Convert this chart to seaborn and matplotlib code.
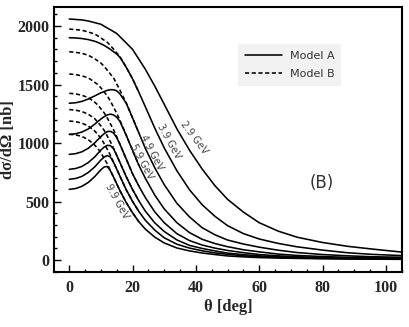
import matplotlib
matplotlib.use("Agg")
import matplotlib.pyplot as plt
import seaborn as sns
import pandas as pd
from matplotlib.lines import Line2D
from matplotlib.ticker import MultipleLocator

# angle grid [deg]
theta = [0, 2, 4, 6, 8, 9, 10, 11, 12, 13, 14, 15, 16, 18, 20, 22, 24, 27, 30,
         34, 38, 42, 46, 50, 55, 60, 66, 72, 80, 88, 96, 105]

# Model A, d sigma / d Omega [nb]
model_a_29 = [2060, 2056, 2052, 2043, 2029, 2022, 2015, 1999, 1983, 1968, 1952, 1936, 1909, 1855, 1800, 1716,
              1632, 1487, 1331, 1121, 938, 777, 636, 519, 410, 319, 247, 195, 150, 117, 93, 68]
model_a_39 = [1900, 1898, 1893, 1884, 1870, 1860, 1848, 1834, 1818, 1800, 1780, 1760, 1733, 1647, 1548, 1433,
              1312, 1128, 958, 763, 600, 472, 374, 294, 226, 180, 142, 113, 85, 62, 48, 38]
model_a_49 = [1340, 1344, 1356, 1376, 1402, 1416, 1429, 1440, 1450, 1456, 1455, 1446, 1420, 1340, 1214, 1085,
              956, 789, 644, 485, 368, 276, 216, 171, 137, 110, 84, 64, 47, 36, 28, 24]
model_a_59 = [1074, 1079, 1094, 1120, 1160, 1183, 1205, 1225, 1240, 1247, 1240, 1220, 1185, 1066, 936, 809,
              700, 555, 437, 319, 234, 177, 141, 114, 88, 70, 51, 39, 30, 23, 20, 16]
model_a_69 = [903, 909, 925, 955, 1000, 1028, 1055, 1080, 1098, 1100, 1085, 1045, 990, 863, 737, 631,
              535, 412, 319, 225, 166, 128, 102, 82, 63, 47, 36, 28, 21, 18, 15, 12]
model_a_79 = [775, 782, 800, 833, 880, 910, 940, 965, 980, 978, 950, 894, 834, 712, 602, 505,
              419, 318, 244, 172, 125, 99, 78, 59, 46, 36, 27, 22, 17, 14, 12, 10]
model_a_89 = [690, 697, 715, 748, 795, 825, 855, 880, 893, 880, 834, 776, 717, 600, 501, 414,
              341, 256, 190, 135, 102, 79, 61, 49, 36, 27, 22, 17, 14, 11, 10, 8]
model_a_99 = [604, 611, 630, 663, 712, 742, 772, 795, 800, 762, 708, 651, 593, 491, 403, 327,
              265, 196, 146, 103, 78, 60, 47, 35, 27, 21, 17, 14, 11, 9, 7.5, 6]

# Model B, forward angles only (joins model A after that)
theta_b = theta[:16]
model_b_39 = [1974, 1969, 1964, 1949, 1932, 1916, 1898, 1879, 1861, 1833, 1802, 1770, 1738, 1647, 1548, 1433]
model_b_49 = [1780, 1775, 1767, 1750, 1721, 1702, 1683, 1656, 1623, 1589, 1556, 1504, 1452, 1342, 1214, 1085]
model_b_59 = [1590, 1585, 1574, 1557, 1520, 1500, 1471, 1437, 1403, 1358, 1306, 1254, 1195, 1066, 936, 809]
model_b_69 = [1425, 1420, 1408, 1388, 1350, 1325, 1292, 1259, 1215, 1164, 1113, 1053, 990, 863, 737, 631]
model_b_79 = [1286, 1281, 1269, 1246, 1209, 1178, 1146, 1109, 1060, 1011, 955, 894, 834, 712, 602, 505]
model_b_89 = [1188, 1183, 1170, 1145, 1104, 1073, 1041, 995, 947, 895, 836, 776, 717, 600, 501, 414]
model_b_99 = [1074, 1070, 1056, 1029, 983, 954, 916, 869, 822, 765, 708, 651, 593, 491, 403, 327]

curves_a = [model_a_29, model_a_39, model_a_49, model_a_59, model_a_69, model_a_79, model_a_89, model_a_99]
curves_b = [model_b_39, model_b_49, model_b_59, model_b_69, model_b_79, model_b_89, model_b_99]

# energy labels: text, theta, value, rotation
energy_labels = [("2.9 GeV", 39.3, 1049, -53),
                 ("3.9 GeV", 31.4, 1015, -61),
                 ("4.9 GeV", 26.1, 920, -62),
                 ("5.9 GeV", 22.9, 844, -62),
                 ("9.9 GeV", 15.0, 502, -61)]

sns.set_style("white")
plt.rcParams["font.family"] = ["Liberation Serif", "DejaVu Serif"]

fig, ax = plt.subplots(figsize=(4.09, 3.27), dpi=100)
fig.subplots_adjust(left=0.133, right=0.982, top=0.9795, bottom=0.169)

for ys in curves_a:
    df = pd.DataFrame({"theta": theta, "xs": ys})
    sns.lineplot(data=df, x="theta", y="xs", ax=ax, color="black", lw=1.15, sort=False)
for ys in curves_b:
    df = pd.DataFrame({"theta": theta_b, "xs": ys})
    sns.lineplot(data=df, x="theta", y="xs", ax=ax, color="black", lw=1.15, sort=False,
                 linestyle=(0, (2.6, 1.6)))

for txt, tx, ty, rot in energy_labels:
    ax.text(tx, ty, txt, rotation=rot, rotation_mode="anchor", ha="center", va="center",
            fontsize=7, color="#444444", family="DejaVu Sans")

ax.text(0.771, 0.335, "(B)", transform=ax.transAxes, ha="center", va="center",
        fontsize=12, color="#333333", family="DejaVu Sans")

handles = [Line2D([], [], color="black", lw=1.15),
           Line2D([], [], color="black", lw=1.15, linestyle=(0, (2.6, 1.6)))]
leg = ax.legend(handles, ["Model A", "Model B"], loc="upper left", bbox_to_anchor=(0.514, 0.88),
                frameon=True, fancybox=False, facecolor="#f2f2f2", edgecolor="none", framealpha=1,
                prop={"family": "DejaVu Sans", "size": 8}, handlelength=3.3, labelspacing=0.75,
                borderpad=0.6, handletextpad=0.7)
for t in leg.get_texts():
    t.set_color("#333333")

ax.set_xlim(-4.7, 105)
ax.set_ylim(-100, 2165)
ax.xaxis.set_major_locator(MultipleLocator(20))
ax.xaxis.set_minor_locator(MultipleLocator(5))
ax.yaxis.set_major_locator(MultipleLocator(500))
ax.yaxis.set_minor_locator(MultipleLocator(100))
ax.tick_params(which="both", direction="in", top=False, right=False, bottom=True, left=True,
               width=1.0, color="black")
ax.tick_params(which="major", length=5, labelsize=11.5)
ax.tick_params(axis="y", which="major", pad=3.5)
ax.tick_params(axis="x", which="major", pad=6)
ax.tick_params(which="minor", length=2.5)
for lab in ax.get_xticklabels() + ax.get_yticklabels():
    lab.set_fontweight("bold")
for sp in ax.spines.values():
    sp.set_linewidth(1.5)
    sp.set_color("black")

ax.set_xlabel("θ [deg]", fontsize=12, fontweight="bold", labelpad=2)
ax.set_ylabel("dσ/dΩ [nb]", fontsize=12, fontweight="bold", labelpad=1)

fig.savefig("out.png", dpi=100)
